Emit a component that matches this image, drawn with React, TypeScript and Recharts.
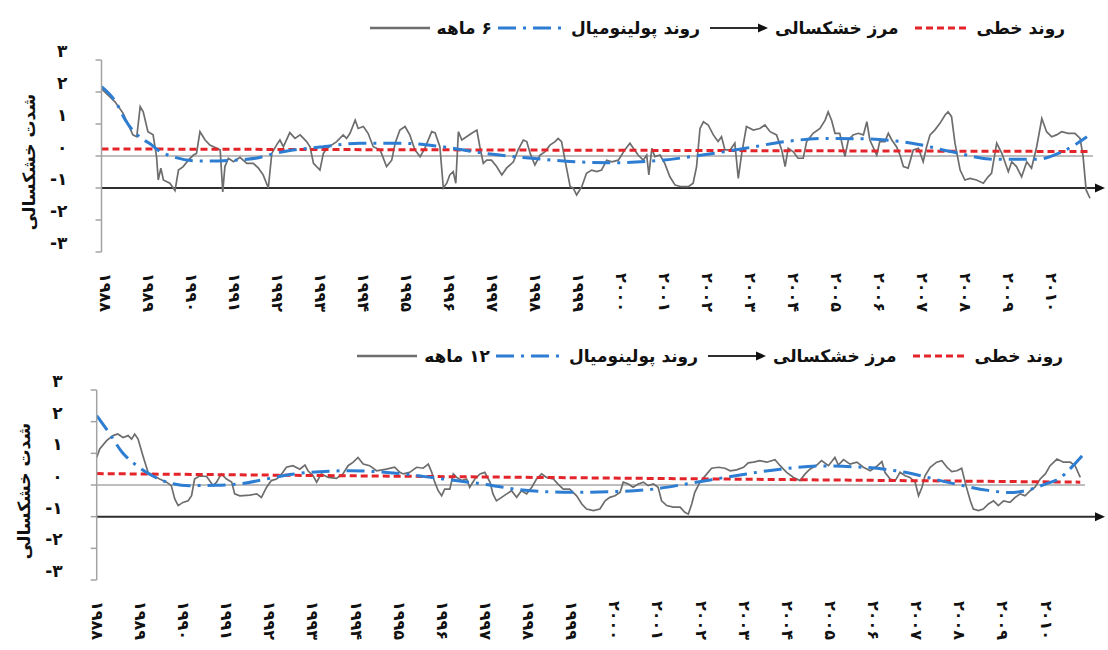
import React from 'react';
import { LineChart, Line, XAxis, YAxis, ReferenceLine, Legend } from 'recharts';

type Pt = [number, number];

const FONT = '"DejaVu Sans", sans-serif';

// x axis categories (years) and their Persian labels
const yearTicks = [1988, 1989, 1990, 1991, 1992, 1993, 1994, 1995, 1996, 1997, 1998, 1999, 2000, 2001, 2002, 2003, 2004, 2005, 2006, 2007, 2008, 2009, 2010];
const yearLabels = ['۱۹۸۸', '۱۹۸۹', '۱۹۹۰', '۱۹۹۱', '۱۹۹۲', '۱۹۹۳', '۱۹۹۴', '۱۹۹۵', '۱۹۹۶', '۱۹۹۷', '۱۹۹۸', '۱۹۹۹', '۲۰۰۰', '۲۰۰۱', '۲۰۰۲', '۲۰۰۳', '۲۰۰۴', '۲۰۰۵', '۲۰۰۶', '۲۰۰۷', '۲۰۰۸', '۲۰۰۹', '۲۰۱۰'];

// y axis ticks and labels
const yTicks = [-3, -2, -1, 0, 1, 2, 3];
const yTickLabels = ['-۳', '-۲', '-۱', '۰', '۱', '۲', '۳'];

const yTitle = 'شدت خشکسالی';
const legendLinear = 'روند خطی';
const legendDrought = 'مرز خشکسالی';
const legendPoly = 'روند پولینومیال';
const label6 = '۶ ماهه';
const label12 = '۱۲ ماهه';
const droughtLevel = -1;

// 6-month SPI (year, value)
const spi6: Pt[] = [
  [1987.93, 2.1], [1988.24, 1.7], [1988.43, 1.34], [1988.66, 0.66], [1988.75, 0.6], [1988.83, 1.54], [1988.9, 1.38], [1989.01, 0.76], [1989.13, 0.66], [1989.21, -0.02],
  [1989.25, -0.75], [1989.31, -0.38], [1989.37, -0.75], [1989.52, -0.85], [1989.64, -1.08], [1989.72, -0.44], [1989.83, -0.33], [1989.95, -0.13], [1990.07, 0.03], [1990.14, 0.08],
  [1990.22, 0.76], [1990.34, 0.5], [1990.45, 0.34], [1990.61, 0.24], [1990.69, 0.19], [1990.75, -1.12], [1990.8, -0.33], [1990.88, -0.07], [1991.0, -0.18], [1991.15, -0.04],
  [1991.31, -0.23], [1991.46, -0.23], [1991.58, -0.38], [1991.69, -0.59], [1991.81, -1.0], [1991.89, 0.08], [1992.0, 0.34], [1992.08, 0.5], [1992.16, 0.29], [1992.31, 0.73],
  [1992.43, 0.55], [1992.55, 0.66], [1992.7, 0.45], [1992.78, 0.29], [1992.86, -0.23], [1993.01, -0.44], [1993.09, 0.08], [1993.17, 0.24], [1993.4, 0.45], [1993.55, 0.66],
  [1993.63, 0.55], [1993.71, 0.71], [1993.83, 1.12], [1993.9, 0.86], [1994.02, 0.92], [1994.13, 0.71], [1994.25, 0.29], [1994.41, 0.19], [1994.56, -0.33], [1994.68, -0.13],
  [1994.76, 0.4], [1994.87, 0.81], [1994.99, 0.92], [1995.1, 0.66], [1995.22, 0.19], [1995.34, -0.02], [1995.45, 0.24], [1995.61, 0.76], [1995.69, 0.72], [1995.8, 0.29],
  [1995.88, -1.0], [1995.96, -0.85], [1996.03, -0.59], [1996.11, -0.49], [1996.17, -0.85], [1996.23, 0.76], [1996.31, 0.5], [1996.42, 0.6], [1996.54, 0.71], [1996.66, 0.81],
  [1996.73, 0.29], [1996.81, -0.23], [1996.89, -0.13], [1997.0, -0.13], [1997.12, -0.33], [1997.24, -0.59], [1997.35, -0.38], [1997.51, -0.18], [1997.62, 0.19], [1997.74, 0.5],
  [1997.82, 0.45], [1997.9, 0.08], [1998.01, -0.28], [1998.13, 0.03], [1998.24, 0.13], [1998.36, 0.34], [1998.48, 0.45], [1998.55, 0.55], [1998.63, 0.45], [1998.71, -0.13],
  [1998.83, -0.96], [1998.9, -1.0], [1998.98, -1.22], [1999.1, -0.96], [1999.21, -0.54], [1999.33, -0.44], [1999.45, -0.49], [1999.56, -0.44], [1999.68, -0.13], [1999.8, -0.18],
  [1999.95, -0.13], [2000.1, 0.19], [2000.22, 0.4], [2000.3, 0.24], [2000.41, 0.03], [2000.53, -0.13], [2000.61, 0.03], [2000.66, -0.59], [2000.73, 0.24], [2000.8, -0.02],
  [2000.92, 0.03], [2001.03, -0.23], [2001.15, -0.65], [2001.27, -0.91], [2001.42, -0.96], [2001.58, -0.96], [2001.69, -0.85], [2001.77, -0.33], [2001.85, 0.86], [2001.93, 1.07],
  [2002.04, 0.97], [2002.16, 0.66], [2002.27, 0.45], [2002.35, 0.6], [2002.43, 0.19], [2002.55, 0.19], [2002.66, 0.4], [2002.74, -0.7], [2002.82, 0.08], [2002.93, 0.92],
  [2003.09, 0.81], [2003.24, 0.86], [2003.36, 0.97], [2003.48, 0.76], [2003.63, 0.66], [2003.75, 0.19], [2003.83, -0.33], [2003.9, 0.24], [2004.02, 0.13], [2004.13, -0.07],
  [2004.25, -0.07], [2004.33, 0.45], [2004.48, 0.71], [2004.64, 0.86], [2004.76, 1.12], [2004.83, 1.38], [2004.91, 1.12], [2004.99, 0.71], [2005.1, 0.71], [2005.22, -0.02],
  [2005.3, 0.5], [2005.41, 0.66], [2005.53, 0.71], [2005.65, 0.66], [2005.73, 1.07], [2005.8, 0.5], [2005.96, 0.03], [2006.03, 0.45], [2006.15, 0.45], [2006.23, 0.71],
  [2006.31, 0.5], [2006.42, 0.29], [2006.5, 0.03], [2006.58, -0.33], [2006.69, -0.38], [2006.81, 0.19], [2006.93, 0.24], [2007.04, -0.18], [2007.12, 0.29], [2007.2, 0.66],
  [2007.31, 0.81], [2007.43, 1.02], [2007.55, 1.28], [2007.62, 1.38], [2007.7, 1.23], [2007.78, 0.4], [2007.9, -0.44], [2008.01, -0.75], [2008.13, -0.7], [2008.28, -0.75],
  [2008.44, -0.85], [2008.55, -0.65], [2008.63, -0.54], [2008.75, 0.4], [2008.87, 0.08], [2008.94, -0.18], [2009.02, -0.49], [2009.1, -0.18], [2009.21, -0.33], [2009.33, -0.65],
  [2009.45, -0.18], [2009.56, -0.38], [2009.68, 0.29], [2009.8, 1.17], [2009.91, 0.76], [2010.03, 0.6], [2010.14, 0.66], [2010.26, 0.76], [2010.41, 0.71], [2010.57, 0.71],
  [2010.69, 0.55], [2010.76, -0.02], [2010.83, -1.06], [2010.92, -1.32],
];

// polynomial trend of 6-month SPI
const poly6: Pt[] = [
  [1987.93, 2.17], [1988.28, 1.65], [1988.48, 1.13], [1988.85, 0.56], [1989.06, 0.38], [1989.24, 0.19], [1989.69, -0.06], [1990.0, -0.14], [1990.4, -0.16], [1990.9, -0.14],
  [1991.55, -0.06], [1991.9, 0.06], [1992.31, 0.17], [1993.01, 0.28], [1993.94, 0.4], [1994.87, 0.4], [1995.8, 0.3], [1996.97, 0.06], [1997.94, -0.07], [1998.94, -0.18],
  [1999.94, -0.21], [2000.97, -0.13], [2001.9, 0.03], [2002.9, 0.24], [2003.83, 0.45], [2004.83, 0.55], [2005.8, 0.53], [2006.78, 0.4], [2007.71, 0.13], [2008.71, -0.1],
  [2009.71, -0.1], [2010.22, 0.1], [2010.57, 0.35], [2010.85, 0.6],
];

// linear trend of 6-month SPI
const lin6: Pt[] = [[1987.93, 0.22], [2010.92, 0.14]];

// 12-month SPI (year, value)
const spi12: Pt[] = [
  [1988.0, 0.87], [1988.07, 1.14], [1988.23, 1.4], [1988.38, 1.56], [1988.49, 1.61], [1988.61, 1.5], [1988.73, 1.56], [1988.81, 1.45], [1988.88, 1.61], [1988.96, 1.45],
  [1989.07, 0.93], [1989.19, 0.4], [1989.31, 0.29], [1989.46, 0.19], [1989.62, 0.09], [1989.73, -0.02], [1989.81, -0.44], [1989.89, -0.65], [1990.0, -0.55], [1990.12, -0.5],
  [1990.2, -0.34], [1990.27, 0.19], [1990.39, 0.29], [1990.55, 0.27], [1990.7, -0.02], [1990.78, 0.09], [1990.89, 0.35], [1991.01, 0.19], [1991.13, 0.09], [1991.2, -0.28],
  [1991.32, -0.34], [1991.55, -0.32], [1991.71, -0.28], [1991.82, -0.39], [1991.94, -0.07], [1992.05, 0.14], [1992.17, 0.19], [1992.29, 0.35], [1992.4, 0.56], [1992.55, 0.61],
  [1992.71, 0.5], [1992.83, 0.63], [1992.9, 0.45], [1993.02, 0.29], [1993.1, 0.09], [1993.21, 0.35], [1993.37, 0.24], [1993.56, 0.21], [1993.71, 0.35], [1993.83, 0.61],
  [1993.95, 0.72], [1994.06, 0.87], [1994.18, 0.66], [1994.33, 0.61], [1994.49, 0.45], [1994.72, 0.5], [1994.91, 0.56], [1995.03, 0.4], [1995.11, 0.35], [1995.26, 0.4],
  [1995.42, 0.56], [1995.57, 0.53], [1995.69, 0.66], [1995.77, 0.4], [1995.84, 0.09], [1995.92, -0.18], [1996.0, -0.34], [1996.07, -0.13], [1996.19, -0.13], [1996.27, 0.35],
  [1996.35, 0.24], [1996.46, 0.14], [1996.58, 0.19], [1996.65, -0.07], [1996.77, 0.19], [1996.89, 0.35], [1997.0, 0.4], [1997.12, 0.09], [1997.19, -0.28], [1997.27, -0.5],
  [1997.39, -0.39], [1997.51, -0.28], [1997.62, -0.18], [1997.74, -0.39], [1997.85, -0.18], [1997.97, -0.28], [1998.09, -0.07], [1998.2, 0.19], [1998.32, 0.35], [1998.43, 0.24],
  [1998.59, 0.19], [1998.7, 0.03], [1998.82, -0.13], [1998.97, -0.13], [1999.13, -0.34], [1999.25, -0.6], [1999.36, -0.76], [1999.52, -0.81], [1999.67, -0.76], [1999.79, -0.5],
  [1999.9, -0.39], [2000.02, -0.34], [2000.14, -0.23], [2000.21, 0.09], [2000.33, 0.03], [2000.44, -0.07], [2000.56, 0.03], [2000.68, 0.09], [2000.79, -0.02], [2000.91, 0.03],
  [2001.02, -0.07], [2001.1, -0.5], [2001.22, -0.65], [2001.37, -0.7], [2001.53, -0.7], [2001.64, -0.86], [2001.72, -0.92], [2001.8, -0.6], [2001.87, -0.23], [2001.99, 0.09],
  [2002.15, 0.35], [2002.26, 0.53], [2002.42, 0.56], [2002.57, 0.53], [2002.69, 0.45], [2002.84, 0.48], [2003.0, 0.56], [2003.11, 0.7], [2003.23, 0.72], [2003.38, 0.77],
  [2003.54, 0.72], [2003.73, 0.8], [2003.85, 0.61], [2004.0, 0.4], [2004.16, 0.24], [2004.31, 0.14], [2004.43, 0.35], [2004.54, 0.5], [2004.7, 0.63], [2004.81, 0.77],
  [2004.97, 0.61], [2005.12, 0.87], [2005.2, 0.63], [2005.32, 0.8], [2005.47, 0.66], [2005.63, 0.72], [2005.78, 0.56], [2005.94, 0.45], [2006.09, 0.59], [2006.21, 0.74],
  [2006.28, 0.4], [2006.4, 0.19], [2006.52, 0.14], [2006.63, 0.4], [2006.75, 0.29], [2006.86, 0.24], [2006.98, 0.09], [2007.06, -0.34], [2007.14, -0.07], [2007.21, 0.29],
  [2007.33, 0.56], [2007.48, 0.72], [2007.6, 0.77], [2007.72, 0.56], [2007.83, 0.42], [2007.95, 0.45], [2008.06, 0.53], [2008.16, -0.02], [2008.26, -0.5], [2008.33, -0.76],
  [2008.45, -0.81], [2008.56, -0.76], [2008.68, -0.6], [2008.8, -0.5], [2008.91, -0.65], [2009.03, -0.5], [2009.18, -0.55], [2009.3, -0.39], [2009.42, -0.28], [2009.53, -0.34],
  [2009.65, -0.18], [2009.76, -0.07], [2009.88, 0.19], [2010.0, 0.35], [2010.11, 0.61], [2010.27, 0.82], [2010.42, 0.72], [2010.58, 0.72], [2010.69, 0.61], [2010.81, 0.24],
];

// polynomial trend of 12-month SPI
const poly12: Pt[] = [
  [1988.0, 2.19], [1988.3, 1.62], [1988.58, 1.05], [1988.93, 0.61], [1989.28, 0.3], [1989.76, 0.04], [1990.16, -0.02], [1990.74, -0.01], [1991.39, 0.05], [1991.94, 0.19],
  [1992.48, 0.33], [1993.17, 0.42], [1993.87, 0.45], [1995.03, 0.36], [1996.03, 0.19], [1996.96, 0.03], [1997.88, -0.16], [1998.97, -0.23], [1999.97, -0.21], [2000.9, -0.13],
  [2001.83, 0.07], [2002.85, 0.3], [2003.85, 0.5], [2004.82, 0.6], [2005.78, 0.56], [2006.75, 0.4], [2007.72, 0.09], [2008.67, -0.17], [2009.18, -0.24], [2009.65, -0.14],
  [2010.0, 0.03], [2010.34, 0.22], [2010.65, 0.62], [2010.85, 0.92],
];

// linear trend of 12-month SPI
const lin12: Pt[] = [[1988.0, 0.36], [2010.81, 0.09]];

const COLORS = {
  spi: '#6d6d6d',
  poly: '#2d7dd2',
  lin: '#e3252b',
  axis: '#a3a3a3',
  zero: '#a9a9a9',
  drought: '#2e2e2e',
  text: '#111111',
};

const toRows = (pts: Pt[]) => pts.map(([year, v]) => ({ year, v }));

const XTick = (props: any) => {
  const { x, y, payload } = props;
  const i = yearTicks.indexOf(payload.value);
  return (
    <text
      transform={`translate(${x},${y + 13}) rotate(90)`}
      textAnchor="start"
      dy="0.3em"
      fontFamily={FONT}
      fontSize={16}
      fontWeight={700}
      letterSpacing={0.8}
      fill={COLORS.text}
    >
      {yearLabels[i]}
    </text>
  );
};

const YTick = (props: any) => {
  const { x, y, payload } = props;
  const i = yTicks.indexOf(payload.value);
  return (
    <text x={x - 26} y={y - 3} textAnchor="end" fontFamily={FONT} fontSize={17} fontWeight={700} fill={COLORS.text}>
      {yTickLabels[i]}
    </text>
  );
};

const makeTitle = (cx: number) => (p: any) => {
  const vb = p.viewBox || {};
  const x = (vb.x || 0) + cx;
  const y = (vb.y || 0) + (vb.height || 0) / 2 + 6;
  return (
    <text
      x={x}
      y={y}
      transform={`rotate(-90, ${x}, ${y})`}
      textAnchor="middle"
      dominantBaseline="central"
      fontFamily={FONT}
      fontSize={17}
      fontWeight={700}
      fill={COLORS.text}
    >
      {yTitle}
    </text>
  );
};

const makeDroughtShape = (ext: number) => (p: any) => {
  const { x1, y1, x2 } = p;
  const tip = x2 + ext;
  return (
    <g>
      <line x1={x1} y1={y1} x2={tip - 6} y2={y1} stroke={COLORS.drought} strokeWidth={2} />
      <polygon points={`${tip},${y1} ${tip - 10},${y1 - 4.5} ${tip - 10},${y1 + 4.5}`} fill="#111" />
    </g>
  );
};

const LegendSymbol = ({ kind }: { kind: string }) => {
  if (kind === 'lin') {
    return (
      <svg width={55} height={12}>
        <line x1={0} y1={6} x2={55} y2={6} stroke={COLORS.lin} strokeWidth={3} strokeDasharray="7 4" />
      </svg>
    );
  }
  if (kind === 'arrow') {
    return (
      <svg width={58} height={12}>
        <line x1={0} y1={6} x2={50} y2={6} stroke={COLORS.drought} strokeWidth={2} />
        <polygon points="58,6 48,1.5 48,10.5" fill="#111" />
      </svg>
    );
  }
  if (kind === 'poly') {
    return (
      <svg width={66} height={12}>
        <line x1={0} y1={6} x2={66} y2={6} stroke={COLORS.poly} strokeWidth={3} strokeDasharray="18 7 3 7" />
      </svg>
    );
  }
  return (
    <svg width={60} height={12}>
      <line x1={0} y1={6} x2={60} y2={6} stroke={COLORS.spi} strokeWidth={2.5} />
    </svg>
  );
};

const LegendRow = ({ periodLabel, padRight }: { periodLabel: string; padRight: number }) => {
  const entries = [
    { label: legendLinear, kind: 'lin', gap: 16 },
    { label: legendDrought, kind: 'arrow', gap: 10 },
    { label: legendPoly, kind: 'poly', gap: 6 },
    { label: periodLabel, kind: 'spi', gap: 0 },
  ];
  return (
    <div
      style={{
        display: 'flex',
        flexDirection: 'row',
        direction: 'rtl',
        alignItems: 'center',
        paddingRight: padRight,
        fontFamily: FONT,
        fontWeight: 700,
        fontSize: 17,
        lineHeight: '22px',
        color: COLORS.text,
        whiteSpace: 'nowrap',
      }}
    >
      {entries.map((e) => (
        <React.Fragment key={e.kind}>
          <span>{e.label}</span>
          <span style={{ display: 'inline-flex', marginRight: 7, marginLeft: e.gap }}>
            <LegendSymbol kind={e.kind} />
          </span>
        </React.Fragment>
      ))}
    </div>
  );
};

type PanelProps = {
  spi: Pt[];
  poly: Pt[];
  lin: Pt[];
  periodLabel: string;
  height: number;
  plotLeft: number;
  plotTop: number;
  plotRight: number;
  plotBottom: number;
  domain: [number, number];
  arrowExt: number;
  legendTop: number;
  legendPadRight: number;
  titleX: number;
};

const X_AXIS_H = 60;

const Panel = (p: PanelProps) => (
  <LineChart
    width={1108}
    height={p.height}
    margin={{ top: p.plotTop, right: 1108 - p.plotRight, bottom: p.height - p.plotBottom - X_AXIS_H, left: 0 }}
  >
    <XAxis
      type="number"
      dataKey="year"
      domain={p.domain}
      ticks={yearTicks}
      interval={0}
      allowDataOverflow
      axisLine={false}
      tickLine={false}
      height={X_AXIS_H}
      tick={<XTick />}
    />
    <YAxis
      type="number"
      domain={[-3, 3]}
      ticks={yTicks}
      interval={0}
      width={p.plotLeft}
      axisLine={{ stroke: COLORS.axis, strokeWidth: 1.5 }}
      tickLine={{ stroke: COLORS.axis, strokeWidth: 1.5 }}
      tickSize={6}
      tick={<YTick />}
      label={makeTitle(p.titleX)}
    />
    <ReferenceLine y={0} stroke={COLORS.zero} strokeWidth={1.5} />
    <ReferenceLine y={droughtLevel} shape={makeDroughtShape(p.arrowExt)} />
    <Line
      data={toRows(p.spi)}
      dataKey="v"
      type="linear"
      stroke={COLORS.spi}
      strokeWidth={1.7}
      dot={false}
      activeDot={false}
      isAnimationActive={false}
    />
    <Line
      data={toRows(p.lin)}
      dataKey="v"
      type="linear"
      stroke={COLORS.lin}
      strokeWidth={3}
      strokeDasharray="7 4"
      dot={false}
      activeDot={false}
      isAnimationActive={false}
    />
    <Line
      data={toRows(p.poly)}
      dataKey="v"
      type="monotone"
      stroke={COLORS.poly}
      strokeWidth={3}
      strokeDasharray="18 7 3 7"
      dot={false}
      activeDot={false}
      isAnimationActive={false}
    />
    <Legend
      verticalAlign="middle"
      align="center"
      wrapperStyle={{ top: p.legendTop, left: 0, width: 1108 }}
      content={() => <LegendRow periodLabel={p.periodLabel} padRight={p.legendPadRight} />}
    />
  </LineChart>
);

export default function App() {
  return (
    <div style={{ position: 'absolute', left: 0, top: 0, width: 1108, height: 650, background: '#ffffff', overflow: 'hidden' }}>
      <div style={{ position: 'absolute', left: 0, top: 0 }}>
        <Panel
          spi={spi6}
          poly={poly6}
          lin={lin6}
          periodLabel={label6}
          height={330}
          plotLeft={101.5}
          plotTop={60}
          plotRight={1093}
          plotBottom={252}
          domain={[1987.93, 2010.99]}
          arrowExt={12}
          legendTop={17}
          legendPadRight={43}
          titleX={29}
        />
      </div>
      <div style={{ position: 'absolute', left: 0, top: 330 }}>
        <Panel
          spi={spi12}
          poly={poly12}
          lin={lin12}
          periodLabel={label12}
          height={320}
          plotLeft={96.7}
          plotTop={60}
          plotRight={1085}
          plotBottom={250}
          domain={[1988.0, 2010.92]}
          arrowExt={20}
          legendTop={15}
          legendPadRight={45}
          titleX={24}
        />
      </div>
    </div>
  );
}
